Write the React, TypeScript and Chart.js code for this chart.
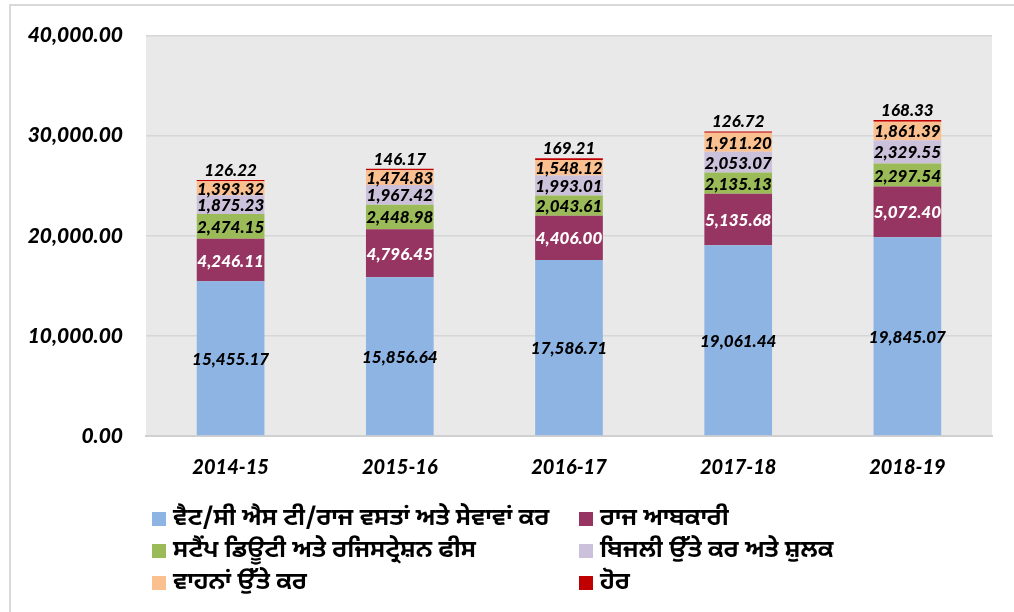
import React, { useEffect, useRef } from "react";
import { Chart, registerables } from "chart.js";

Chart.register(...registerables);

const categories = ["2014-15", "2015-16", "2016-17", "2017-18", "2018-19"];
const seriesNames = [
  "ਵੈਟ/ਸੀ ਐਸ ਟੀ/ਰਾਜ ਵਸਤਾਂ ਅਤੇ ਸੇਵਾਵਾਂ ਕਰ",
  "ਰਾਜ ਆਬਕਾਰੀ",
  "ਸਟੈਂਪ ਡਿਊਟੀ ਅਤੇ ਰਜਿਸਟ੍ਰੇਸ਼ਨ ਫੀਸ",
  "ਬਿਜਲੀ ਉੱਤੇ ਕਰ ਅਤੇ ਸ਼ੁਲਕ",
  "ਵਾਹਨਾਂ ਉੱਤੇ ਕਰ",
  "ਹੋਰ",
];
const vat = [15455.17, 15856.64, 17586.71, 19061.44, 19845.07];
const excise = [4246.11, 4796.45, 4406.0, 5135.68, 5072.4];
const stamp = [2474.15, 2448.98, 2043.61, 2135.13, 2297.54];
const electricity = [1875.23, 1967.42, 1993.01, 2053.07, 2329.55];
const vehicles = [1393.32, 1474.83, 1548.12, 1911.2, 1861.39];
const others = [126.22, 146.17, 169.21, 126.72, 168.33];
const yTickValues = [0, 10000, 20000, 30000, 40000];

const seriesValues = [vat, excise, stamp, electricity, vehicles, others];
const colors = ["#8EB4E3", "#963462", "#9BBB59", "#CCC1DA", "#FAC090", "#C00000"];
const labelColors = ["#000000", "#FFFFFF", "#000000", "#000000", "#000000", "#000000"];

const fmt = (v: number) =>
  v.toLocaleString("en-US", { minimumFractionDigits: 2, maximumFractionDigits: 2 });

const NUM_FONT = "Lato, 'Open Sans', sans-serif";
const PA_FONT = "'Noto Sans Gurmukhi', 'Noto Sans', 'DejaVu Sans', sans-serif";

export default function App() {
  const ref = useRef<HTMLCanvasElement | null>(null);

  useEffect(() => {
    if (!ref.current) return;
    const bgPlugin = {
      id: "plotBg",
      beforeDraw(chart: any) {
        const { ctx, chartArea } = chart;
        ctx.save();
        ctx.fillStyle = "#e9e9e9";
        ctx.fillRect(chartArea.left, chartArea.top, chartArea.right - chartArea.left, chartArea.bottom - chartArea.top);
        ctx.restore();
      },
    };
    const labelPlugin = {
      id: "barLabels",
      afterDatasetsDraw(chart: any) {
        const ctx = chart.ctx;
        ctx.save();
        ctx.font = "italic 900 17px " + NUM_FONT;
        ctx.textAlign = "center";
        chart.data.datasets.forEach((ds: any, i: number) => {
          const meta = chart.getDatasetMeta(i);
          meta.data.forEach((el: any, j: number) => {
            const v = ds.data[j];
            ctx.fillStyle = labelColors[i];
            if (i === chart.data.datasets.length - 1) {
              ctx.textBaseline = "bottom";
              ctx.fillText(fmt(v), el.x, el.y - 1);
            } else {
              ctx.textBaseline = "middle";
              ctx.fillText(fmt(v), el.x, (el.y + el.base) / 2 + 1);
            }
          });
        });
        ctx.restore();
      },
    };

    const chart = new Chart(ref.current, {
      type: "bar",
      data: {
        labels: categories,
        datasets: seriesValues.map((d, i) => ({
          label: seriesNames[i],
          data: d,
          backgroundColor: colors[i],
          borderWidth: 0,
          barPercentage: 0.8,
          categoryPercentage: 0.5,
        })),
      },
      options: {
        animation: false,
        responsive: false,
        maintainAspectRatio: false,
        layout: { padding: { left: 0, top: 32, right: 22, bottom: 126 } },
        plugins: { legend: { display: false }, tooltip: { enabled: false } },
        scales: {
          x: {
            stacked: true,
            grid: { display: false, drawTicks: false },
            border: { display: true, color: "#d0d0d0", width: 2 },
            ticks: {
              padding: 20,
              color: "#000",
              font: { family: NUM_FONT, size: 20, style: "italic", weight: "900" },
            },
            afterFit: (s: any) => {
              s.height = 50;
            },
          },
          y: {
            stacked: true,
            min: 0,
            max: 40000,
            afterBuildTicks: (s: any) => {
              s.ticks = yTickValues.map((v) => ({ value: v }));
            },
            grid: { color: "#d6d6d6", lineWidth: 1.5, drawTicks: false },
            border: { display: false },
            ticks: {
              padding: 23,
              color: "#000",
              font: { family: NUM_FONT, size: 21, style: "italic", weight: "900" },
              callback: (v: any) => fmt(Number(v)),
            },
            afterFit: (s: any) => {
              s.width = 146;
            },
          },
        },
      },
      plugins: [bgPlugin, labelPlugin],
    } as any);
    return () => chart.destroy();
  }, []);

  return (
    <div style={{ position: "fixed", left: 0, top: 0, width: 1014, height: 612, background: "#fff", overflow: "hidden" }}>
      <div
        style={{
          position: "absolute",
          left: 9,
          top: 4,
          width: 1100,
          height: 700,
          borderLeft: "2px solid #d9d9d9",
          borderTop: "2px solid #d9d9d9",
          boxSizing: "border-box",
        }}
      />
      <canvas ref={ref} width={1014} height={612} style={{ position: "absolute", left: 0, top: 0, width: 1014, height: 612 }} />
      <div
        style={{
          position: "absolute",
          left: 152,
          top: 504,
          display: "grid",
          gridTemplateColumns: "427px auto",
          rowGap: 2,
          fontFamily: PA_FONT,
          fontSize: 24,
          fontWeight: "bold",
          color: "#000",
        }}
      >
        {seriesNames.map((n, i) => (
          <div key={i} style={{ display: "flex", alignItems: "center", height: 30, whiteSpace: "nowrap" }}>
            <span style={{ display: "inline-block", width: 14, height: 14, background: colors[i], marginRight: 7, flexShrink: 0 }} />
            <span style={{ lineHeight: "30px" }}>{n}</span>
          </div>
        ))}
      </div>
    </div>
  );
}
